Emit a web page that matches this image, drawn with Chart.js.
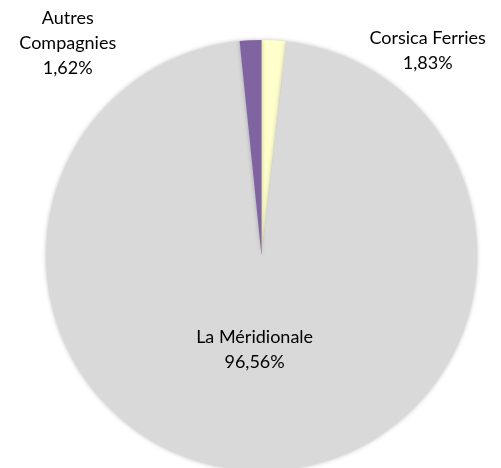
<!DOCTYPE html>
<html><head><meta charset="utf-8">
<script src="https://cdn.jsdelivr.net/npm/chart.js@4.4.0/dist/chart.umd.min.js"></script>
<style>
html,body{margin:0;padding:0;background:#fff;overflow:hidden;width:501px;height:468px;}
#wrap{position:relative;width:501px;height:480px;}
</style></head>
<body>
<div id="wrap"><canvas id="c" width="501" height="480"></canvas></div>
<script>
const categories = ["Corsica Ferries", "La Méridionale", "Autres Compagnies"];
const shares = [1.83, 96.56, 1.62];
const shareLabels = ["1,83%", "96,56%", "1,62%"];
const labelLines = [["Corsica Ferries"], ["La Méridionale"], ["Autres", "Compagnies"]];
const colors = ["#FFFFCC", "#D9D9D9", "#8064A2"];
// label anchor: offset from pie centre in units of radius (x, y of first line centre)
const labelAnchors = [[0.771, -1.01], [-0.032, 0.378], [-0.899, -1.10]];

const labelPlugin = {
  id: 'pieLabels',
  afterDatasetsDraw(chart) {
    const ctx = chart.ctx;
    const meta = chart.getDatasetMeta(0);
    ctx.save();
    ctx.font = '18px Lato, "Open Sans", sans-serif';
    ctx.fillStyle = '#000';
    ctx.textAlign = 'center';
    ctx.textBaseline = 'middle';
    meta.data.forEach((arc, i) => {
      const cx = arc.x, cy = arc.y, r = arc.outerRadius;
      const lines = labelLines[i].concat([shareLabels[i]]);
      const x = cx + labelAnchors[i][0] * r;
      let y = cy + labelAnchors[i][1] * r;
      lines.forEach((t, k) => ctx.fillText(t, x, y + k * 25));
    });
    ctx.restore();
  }
};

const shadowPlugin = {
  id: 'pieShadow',
  beforeDatasetsDraw(chart) {
    const ctx = chart.ctx;
    ctx.save();
    ctx.shadowColor = 'rgba(0,0,0,0.25)';
    ctx.shadowBlur = 4;
    ctx.shadowOffsetX = 0;
    ctx.shadowOffsetY = 0;
  },
  afterDatasetsDraw(chart) { chart.ctx.restore(); }
};

new Chart(document.getElementById('c'), {
  type: 'pie',
  data: {
    labels: categories,
    datasets: [{
      data: shares,
      backgroundColor: colors,
      borderWidth: 0
    }]
  },
  options: {
    responsive: false,
    animation: false,
    layout: { padding: { top: 40, left: 22, right: 0, bottom: 9 } },
    plugins: { legend: { display: false }, tooltip: { enabled: false } }
  },
  plugins: [shadowPlugin, labelPlugin]
});
</script>
</body></html>
